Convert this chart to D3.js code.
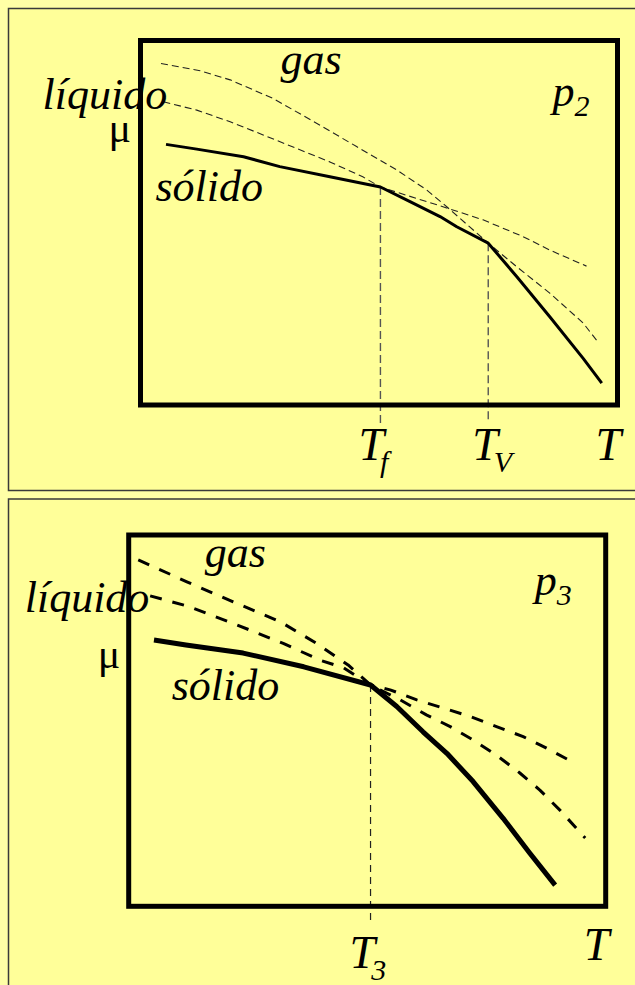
<!DOCTYPE html>
<html>
<head>
<meta charset="utf-8">
<script src="https://cdn.jsdelivr.net/npm/d3@7"></script>
<style>
  html, body { margin: 0; padding: 0; background: #ffffa6; }
  svg { display: block; }
</style>
</head>
<body>
<script>
// Chemical potential μ versus temperature T for the three phases,
// at two pressures. Values are in arbitrary units (0–100 on each axis).

// ---- panel p2: separate melting (Tf) and boiling (Tv) points ----
const p2Stable = [
  [5.35, 71.5], [11.8, 70.2], [21.6, 68.1], [29.2, 65.4], [39.7, 62.6],
  [50.3, 59.8], [56.5, 55.8], [62.8, 51.7], [66.3, 48.9], [72.9, 44.4],
  [78.9, 35.2], [85.8, 24.2], [92.8, 12.8], [96.7, 6.0]
];
const p2Liquid = [
  [4.8, 83.2], [11.8, 80.9], [18.8, 77.7], [25.7, 74.1], [32.7, 70.4],
  [39.7, 66.7], [46.6, 62.6], [50.3, 59.8], [63.4, 54.4], [71.8, 50.8],
  [80.2, 46.2], [85.8, 42.5], [93.5, 38.1]
];
const p2Gas = [
  [4.3, 93.7], [12.5, 91.7], [18.8, 89.2], [27.8, 84.1], [36.9, 77.3],
  [45.3, 70.9], [53.7, 64.5], [60.0, 59.0], [64.2, 54.4], [72.9, 44.4],
  [78.9, 37.9], [85.8, 30.7], [92.8, 22.5], [96.0, 17.1]
];
const p2Marks = [
  { name: "T", sub: "f", t: 50.3, mu: 59.8 },
  { name: "T", sub: "V", t: 72.9, mu: 44.4 }
];

// ---- panel p3: triple point T3 ----
const p3Stable = [
  [5.3, 71.7], [12.0, 70.4], [24.0, 68.2], [36.7, 64.5], [50.7, 59.6],
  [56.2, 53.8], [61.7, 47.0], [66.7, 41.2], [72.2, 33.6], [78.5, 23.7],
  [84.1, 14.3], [89.4, 5.7]
];
const p3Liquid = [
  [4.5, 83.6], [12.2, 80.9], [21.9, 76.2], [32.4, 70.8], [40.1, 66.3],
  [45.1, 64.2], [50.7, 59.6], [54.8, 58.3], [60.4, 55.6], [65.9, 53.4],
  [71.6, 51.1], [77.1, 48.4], [82.7, 45.7], [87.6, 42.6], [93.6, 38.5]
];
const p3Gas = [
  [2.0, 93.3], [12.2, 87.4], [21.9, 82.0], [31.7, 76.7], [39.4, 70.8],
  [46.0, 65.0], [50.7, 59.6], [56.9, 55.6], [62.5, 51.5], [67.4, 48.4],
  [72.2, 44.8], [77.1, 40.7], [82.0, 35.9], [86.2, 31.3], [90.4, 25.9],
  [95.7, 18.4]
];
const p3Marks = [
  { name: "T", sub: "3", t: 50.7, mu: 59.6 }
];

// phase labels and pressure labels
const phaseNames = { gas: "gas", liquid: "líquido", solid: "sólido" };
const axisNames = { mu: "μ", t: "T" };
const pressureLabels = [{ base: "p", sub: "2" }, { base: "p", sub: "3" }];

const SERIF = '"Times New Roman", Tinos, FreeSerif, serif';
const W = 635, H = 985;
const svg = d3.select("body").append("svg").attr("width", W).attr("height", H);

// outer slide panels
svg.append("rect").attr("x", 8.5).attr("y", 8.5).attr("width", 640).attr("height", 482)
  .attr("fill", "#ffff99").attr("stroke", "#3a3a3a").attr("stroke-width", 1.5);
svg.append("rect").attr("x", 8.5).attr("y", 499).attr("width", 640).attr("height", 500)
  .attr("fill", "#ffff99").attr("stroke", "#3a3a3a").attr("stroke-width", 1.5);

function label(g, x, y, size, italic) {
  return g.append("text").attr("x", x).attr("y", y)
    .style("font-family", SERIF).style("font-size", size + "px")
    .style("font-style", italic ? "italic" : "normal").attr("fill", "#000");
}

function panel(cfg) {
  const x = d3.scaleLinear().domain([0, 100]).range([cfg.left, cfg.right]);
  const y = d3.scaleLinear().domain([0, 100]).range([cfg.bottom, cfg.top]);
  const line = d3.line().x(d => x(d[0])).y(d => y(d[1]));
  const g = svg.append("g");

  // guide lines dropping from the transition points to the T axis
  g.selectAll("line.guide").data(cfg.marks).join("line")
    .attr("class", "guide")
    .attr("x1", d => x(d.t)).attr("x2", d => x(d.t))
    .attr("y1", d => y(d.mu)).attr("y2", y(0) + cfg.guideExt)
    .attr("stroke", cfg.guideColor).attr("stroke-width", cfg.guideWidth)
    .attr("stroke-dasharray", cfg.guideDash);

  // metastable branches (dashed)
  [cfg.gas, cfg.liquid].forEach(data => {
    g.append("path").attr("d", line(data))
      .attr("fill", "none").attr("stroke", cfg.dashColor)
      .attr("stroke-width", cfg.dashWidth).attr("stroke-dasharray", cfg.dash)
      .attr("stroke-linejoin", "round");
  });

  // stable branch (solid)
  g.append("path").attr("d", line(cfg.stable))
    .attr("fill", "none").attr("stroke", "#000")
    .attr("stroke-width", cfg.solidWidth).attr("stroke-linejoin", "round");

  // frame
  g.append("rect")
    .attr("x", cfg.left).attr("y", cfg.top)
    .attr("width", cfg.right - cfg.left).attr("height", cfg.bottom - cfg.top)
    .attr("fill", "none").attr("stroke", "#000").attr("stroke-width", 5);

  // phase names
  label(g, cfg.left + cfg.gasAt[0], cfg.top + cfg.gasAt[1], 44, true).text(phaseNames.gas);
  label(g, cfg.left + cfg.liqAt[0], cfg.top + cfg.liqAt[1], 44, true).text(phaseNames.liquid);
  label(g, cfg.left + cfg.solAt[0], cfg.top + cfg.solAt[1], 44, true).text(phaseNames.solid);
  // μ axis name
  label(g, cfg.left + cfg.muAt[0], cfg.top + cfg.muAt[1], 42, false).text(axisNames.mu);
  // pressure
  const p = label(g, cfg.left + cfg.pAt[0], cfg.top + cfg.pAt[1], 44, true);
  p.append("tspan").text(cfg.pressure.base);
  p.append("tspan").attr("dy", 10).style("font-size", "30px").text(cfg.pressure.sub);

  // T axis name
  label(g, cfg.right - 22, cfg.bottom + cfg.tBase, 46, true).text(axisNames.t);
  // transition temperatures
  cfg.marks.forEach((m, i) => {
    const t = label(g, x(m.t) + cfg.markDx[i], cfg.bottom + cfg.markBase, 46, true);
    t.append("tspan").text(m.name);
    t.append("tspan").attr("dx", -4).attr("dy", 12).style("font-size", "30px").text(m.sub);
  });
}

panel({
  left: 140.5, right: 617.5, top: 40.5, bottom: 405,
  stable: p2Stable, liquid: p2Liquid, gas: p2Gas, marks: p2Marks,
  pressure: pressureLabels[0],
  solidWidth: 3, dashWidth: 1.1, dash: "7,4", dashColor: "#222",
  guideColor: "#555", guideWidth: 1.4, guideDash: "8,4", guideExt: 18,
  gasAt: [140, 33], liqAt: [-98, 68], solAt: [15, 160], muAt: [-32, 101],
  pAt: [412, 65], tBase: 55, markBase: 55, markDx: [-22, -16]
});

panel({
  left: 128.7, right: 605.7, top: 535, bottom: 906.3,
  stable: p3Stable, liquid: p3Liquid, gas: p3Gas, marks: p3Marks,
  pressure: pressureLabels[1],
  solidWidth: 5, dashWidth: 3, dash: "12,11", dashColor: "#000",
  guideColor: "#222", guideWidth: 1.2, guideDash: "7,5", guideExt: 17,
  gasAt: [76, 32], liqAt: [-104, 77], solAt: [43, 165], muAt: [-31, 133],
  pAt: [406, 60], tBase: 54, markBase: 62, markDx: [-21]
});
</script>
</body>
</html>
